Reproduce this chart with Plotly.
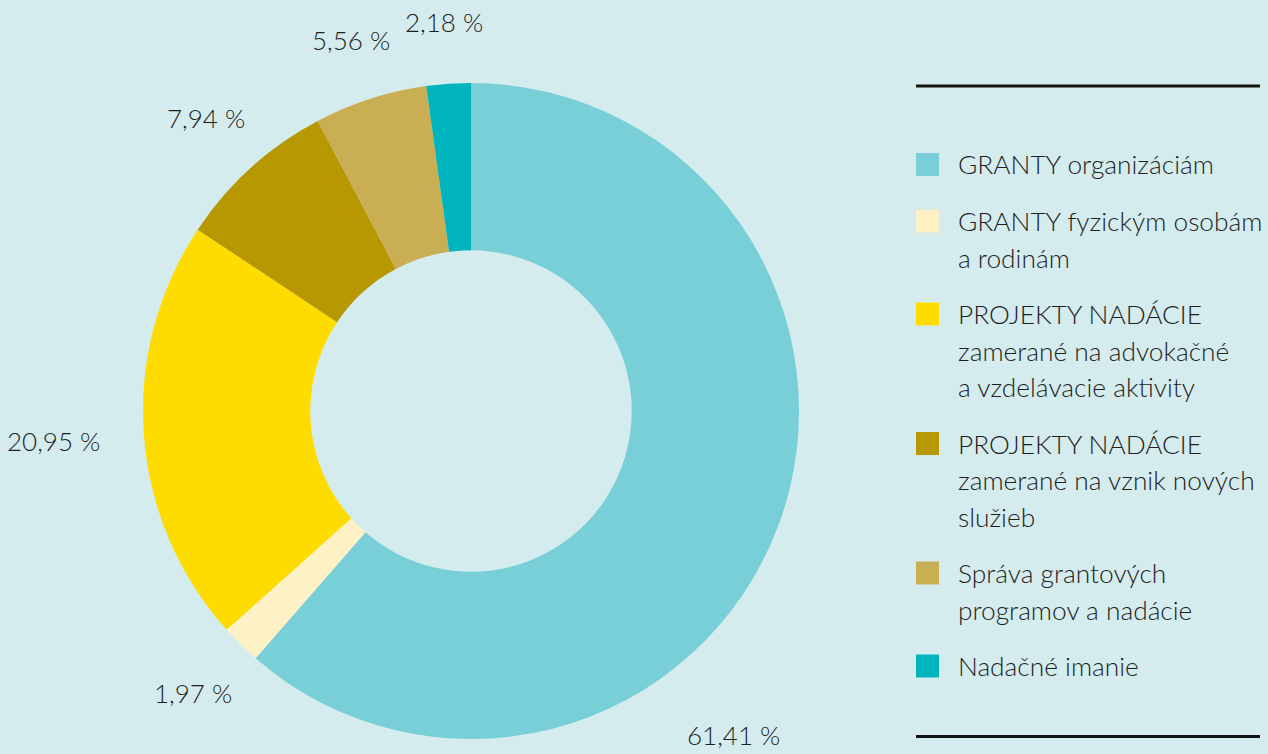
import math
import plotly.graph_objects as go

# ---- data ----
categories = [
    "GRANTY organizáciám",
    "GRANTY fyzickým osobám<br>a rodinám",
    "PROJEKTY NADÁCIE<br>zamerané na advokačné<br>a vzdelávacie aktivity",
    "PROJEKTY NADÁCIE<br>zamerané na vznik nových<br>služieb",
    "Správa grantových<br>programov a nadácie",
    "Nadačné imanie",
]
values = [61.41, 1.97, 20.95, 7.94, 5.56, 2.18]
value_labels = ["61,41 %", "1,97 %", "20,95 %", "7,94 %", "5,56 %", "2,18 %"]

# ---- styles ----
colors = ["#79cfd8", "#fff1c6", "#ffdc00", "#b79800", "#c9ae53", "#00b4be"]
BG = "#d4eced"
TXT = "#1e1e1e"
FONT = "Lato"
W, H = 1268, 754
LABEL_SIZE = 26

dom_x = [143 / W, 799 / W]
dom_y = [15 / H, 671 / H]
hole = 0.49

fig = go.Figure()
fig.add_trace(go.Pie(
    labels=[c.replace("<br>", " ") for c in categories],
    values=values,
    marker=dict(colors=colors, line=dict(width=0)),
    hole=hole,
    sort=False,
    direction="clockwise",
    rotation=0,
    textinfo="none",
    showlegend=False,
    domain=dict(x=dom_x, y=dom_y),
))

# ---- value labels: anchored at the mid-angle, box placed outward ----
cx = (dom_x[0] + dom_x[1]) / 2 * W
cy_up = (dom_y[0] + dom_y[1]) / 2 * H
R = min((dom_x[1] - dom_x[0]) * W, (dom_y[1] - dom_y[0]) * H) / 2
anchor_r = R * 1.127
pad = 4
char_w = 0.45 * LABEL_SIZE
half_h = 0.6 * LABEL_SIZE / 2 + 4
# label of the big slice is placed below the ring (angle, radius factor)
override = {0: (141.0, 1.271)}
total = sum(values)
cum = 0.0
annotations = []
for i, (v, lab) in enumerate(zip(values, value_labels)):
    mid = (cum + v / 2) / total * 360.0
    cum += v
    if i in override:
        ang = math.radians(override[i][0])
        dist = R * override[i][1]
    else:
        ang = math.radians(mid)
        dx, dy = abs(math.sin(ang)), abs(math.cos(ang))
        hw = len(lab) * char_w / 2 + pad
        hh = half_h + pad
        d = min(hw / dx if dx > 1e-6 else 1e9, hh / dy if dy > 1e-6 else 1e9)
        dist = anchor_r + pad + d
    px = cx + dist * math.sin(ang)
    py = cy_up + dist * math.cos(ang)
    annotations.append(dict(
        x=px / W, y=py / H, xref="paper", yref="paper",
        text=lab, showarrow=False, xanchor="center", yanchor="middle",
        font=dict(family=FONT, size=LABEL_SIZE, color=TXT, weight=300),
    ))

# ---- custom legend ----
shapes = []
leg_x0 = 916
sq = 23
text_x = 957
line_h = 36.5
gap = 20
y_center = 164.5  # screen px, center of first line of first item
for cat, col in zip(categories, colors):
    lines = cat.split("<br>")
    shapes.append(dict(
        type="rect", xref="paper", yref="paper",
        x0=leg_x0 / W, x1=(leg_x0 + sq) / W,
        y0=(H - (y_center + sq / 2)) / H, y1=(H - (y_center - sq / 2)) / H,
        fillcolor=col, line=dict(width=0),
    ))
    for k, ln in enumerate(lines):
        ly = y_center + k * line_h
        annotations.append(dict(
            x=text_x / W, y=(H - ly) / H,
            xref="paper", yref="paper", text=ln, showarrow=False,
            xanchor="left", yanchor="middle", align="left",
            font=dict(family=FONT, size=26.3, color=TXT, weight=300),
            borderpad=0,
        ))
    y_center += len(lines) * line_h + gap

for ly in (86, 736.5):
    shapes.append(dict(
        type="line", xref="paper", yref="paper",
        x0=916 / W, x1=1260 / W, y0=(H - ly) / H, y1=(H - ly) / H,
        line=dict(color="#111111", width=3),
    ))

fig.update_layout(
    width=W, height=H,
    margin=dict(l=0, r=0, t=0, b=0),
    paper_bgcolor=BG, plot_bgcolor=BG,
    showlegend=False,
    annotations=annotations,
    shapes=shapes,
    font=dict(family=FONT, color=TXT),
)

fig.write_html("out.html")
